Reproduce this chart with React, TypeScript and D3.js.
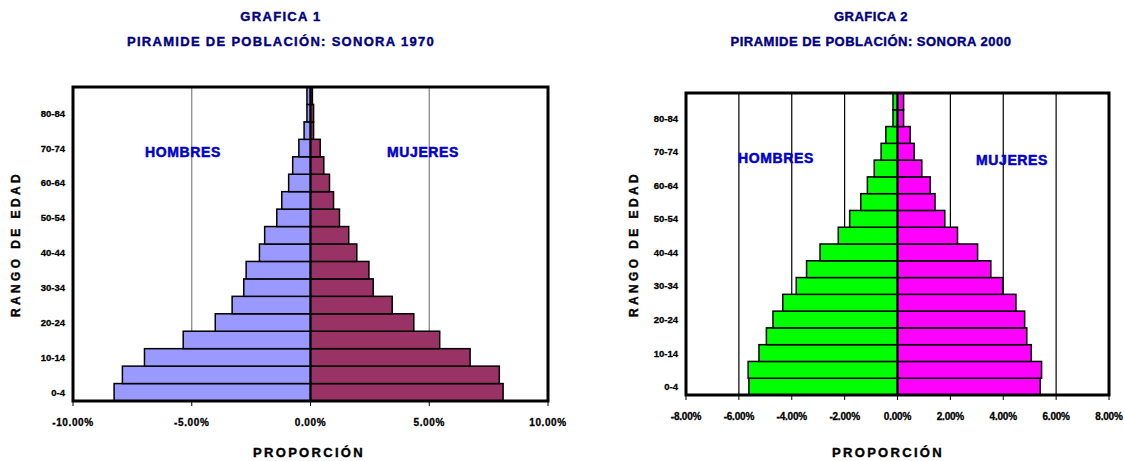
import React from "react";
import * as d3 from "d3";

const ageGroups = [
  "0-4", "5-9", "10-14", "15-19", "20-24", "25-29", "30-34", "35-39", "40-44",
  "45-49", "50-54", "55-59", "60-64", "65-69", "70-74", "75-79", "80-84", "85+",
];

// % of total population
const men1970 = [8.27, 7.92, 6.99, 5.36, 4.01, 3.3, 2.81, 2.71, 2.15, 1.93, 1.42, 1.21, 0.92, 0.75, 0.49, 0.27, 0.15, 0.15];
const women1970 = [8.11, 7.95, 6.72, 5.44, 4.35, 3.44, 2.64, 2.46, 1.95, 1.61, 1.22, 0.97, 0.8, 0.56, 0.41, 0.13, 0.13, 0.08];

const men2000 = [5.62, 5.65, 5.24, 4.96, 4.71, 4.34, 3.83, 3.44, 2.93, 2.24, 1.81, 1.39, 1.14, 0.88, 0.62, 0.44, 0.17, 0.17];
const women2000 = [5.4, 5.45, 5.06, 4.89, 4.81, 4.48, 3.98, 3.53, 3.03, 2.27, 1.79, 1.42, 1.24, 0.92, 0.63, 0.48, 0.23, 0.23];

const ticks1970 = [-10, -5, 0, 5, 10];
const grid1970 = [-5, 5];
const ticks2000 = [-8, -6, -4, -2, 0, 2, 4, 6, 8];
const grid2000 = [-6, -4, -2, 2, 4, 6];

const FONT = "'Liberation Sans', Arial, sans-serif";

type PyramidProps = {
  left: number;
  right: number;
  top: number;
  bottom: number;
  max: number;
  men: number[];
  women: number[];
  ticks: number[];
  grid: number[];
  gridColor: string;
  menColor: string;
  womenColor: string;
  title: string;
  subtitle: string;
  titleX: number;
  titleSpacing: number;
  yTitleX: number;
  xTitleX: number;
  hombres: [number, number];
  mujeres: [number, number];
  labelSize: number;
  labelSpacing: number;
};

function Pyramid(p: PyramidProps) {
  const x = d3.scaleLinear().domain([-p.max, p.max]).range([p.left, p.right]);
  const y = d3.scaleBand<string>().domain(ageGroups).range([p.bottom, p.top]).padding(0);
  const x0 = x(0);
  const midY = (p.top + p.bottom) / 2;
  // heavier look of the old spreadsheet fonts
  const heavy = (c: string, w = 0.4) => ({ stroke: c, strokeWidth: w });

  return (
    <g>
      <text x={p.titleX} y={21} textAnchor="middle" fontFamily={FONT} fontWeight="bold"
        fontSize={13} fill="#000080" {...heavy("#000080")} letterSpacing={p.titleSpacing}>{p.title}</text>
      <text x={p.titleX} y={46} textAnchor="middle" fontFamily={FONT} fontWeight="bold"
        fontSize={13} fill="#000080" {...heavy("#000080")} letterSpacing={p.titleSpacing}>{p.subtitle}</text>

      <rect x={p.left} y={p.top} width={p.right - p.left} height={p.bottom - p.top} fill="#fff" />

      {p.grid.map((g) => (
        <line key={g} x1={x(g)} x2={x(g)} y1={p.top} y2={p.bottom} stroke={p.gridColor} strokeWidth={1.2} />
      ))}

      {ageGroups.map((a, i) => (
        <g key={a}>
          <rect x={x(-p.men[i])} y={y(a)} width={x0 - x(-p.men[i])} height={y.bandwidth()}
            fill={p.menColor} stroke="#000" strokeWidth={1.5} />
          <rect x={x0} y={y(a)} width={x(p.women[i]) - x0} height={y.bandwidth()}
            fill={p.womenColor} stroke="#000" strokeWidth={1.5} />
        </g>
      ))}

      <line x1={x0} x2={x0} y1={p.top} y2={p.bottom} stroke="#000" strokeWidth={2} />
      {ageGroups.map((a) => (
        <line key={a} x1={x0} x2={x0 + 3} y1={y(a)} y2={y(a)} stroke="#000" strokeWidth={1} />
      ))}

      <rect x={p.left} y={p.top} width={p.right - p.left} height={p.bottom - p.top}
        fill="none" stroke="#000" strokeWidth={3} />

      {p.ticks.map((t) => (
        <g key={t}>
          <line x1={x(t)} x2={x(t)} y1={p.bottom} y2={p.bottom + 5} stroke="#000" strokeWidth={1} />
          <text x={x(t)} y={p.bottom + 25} textAnchor="middle" fontFamily={FONT} fontWeight="bold"
            fontSize={10} {...heavy("#000", 0.3)} letterSpacing={p.labelSpacing}>{`${t.toFixed(2)}%`}</text>
        </g>
      ))}

      {ageGroups.map((a, i) =>
        i % 2 === 0 ? (
          <text key={a} x={p.left - 8} y={(y(a) ?? 0) + y.bandwidth() / 2 + 3.5} textAnchor="end"
            fontFamily={FONT} fontWeight="bold" fontSize={p.labelSize} {...heavy("#000", 0.3)}>{a}</text>
        ) : null
      )}

      <text x={p.hombres[0]} y={p.hombres[1]} textAnchor="middle" fontFamily={FONT} fontWeight="bold"
        fontSize={14} fill="#0000cc" {...heavy("#0000cc", 0.5)} letterSpacing={0.6}>HOMBRES</text>
      <text x={p.mujeres[0]} y={p.mujeres[1]} textAnchor="middle" fontFamily={FONT} fontWeight="bold"
        fontSize={14} fill="#0000cc" {...heavy("#0000cc", 0.5)} letterSpacing={0.6}>MUJERES</text>

      <text transform={`translate(${p.yTitleX},${midY}) rotate(-90)`} textAnchor="middle"
        fontFamily={FONT} fontWeight="bold" fontSize={12} {...heavy("#000", 0.4)}
        letterSpacing={3.4}>RANGO DE EDAD</text>
      <text x={p.xTitleX} y={457} textAnchor="middle" fontFamily={FONT} fontWeight="bold"
        fontSize={13} {...heavy("#000", 0.4)} letterSpacing={2.3}>PROPORCIÓN</text>
    </g>
  );
}

export default function App() {
  return (
    <svg width={1124} height={461} style={{ position: "absolute", left: 0, top: 0, background: "#fff" }}>
      <Pyramid left={73} right={548} top={87} bottom={401} max={10}
        men={men1970} women={women1970} ticks={ticks1970} grid={grid1970}
        gridColor="#808080" menColor="#9999ff" womenColor="#993366"
        title="GRAFICA 1" subtitle="PIRAMIDE DE POBLACIÓN: SONORA 1970" titleX={281} titleSpacing={1.3}
        yTitleX={20} xTitleX={309} hombres={[183, 157]} mujeres={[423, 157]}
        labelSize={9.5} labelSpacing={0.6} />
      <Pyramid left={686} right={1109} top={93} bottom={395} max={8}
        men={men2000} women={women2000} ticks={ticks2000} grid={grid2000}
        gridColor="#000" menColor="#00ff00" womenColor="#ff00ff"
        title="GRAFICA 2" subtitle="PIRAMIDE DE POBLACIÓN: SONORA 2000" titleX={871} titleSpacing={0.5}
        yTitleX={638} xTitleX={888} hombres={[776, 163]} mujeres={[1012, 165]}
        labelSize={9.5} labelSpacing={-0.2} />
    </svg>
  );
}
